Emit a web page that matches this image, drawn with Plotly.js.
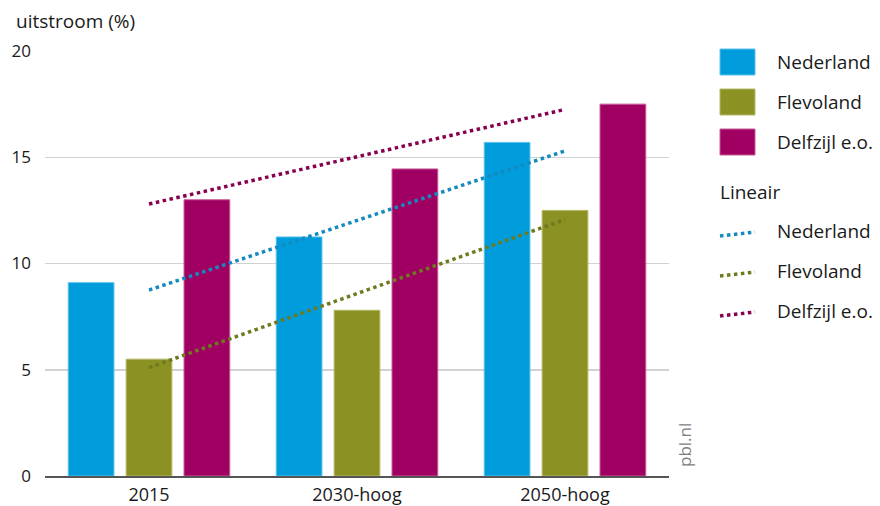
<!DOCTYPE html>
<html>
<head>
<meta charset="utf-8">
<script src="https://cdn.plot.ly/plotly-3.0.1.min.js"></script>
<style>html,body{margin:0;padding:0;background:#fff;}#chart{width:880px;height:506px;}</style>
</head>
<body>
<div id="chart"></div>
<script>
// ---- data ----
var categories = ['2015', '2030-hoog', '2050-hoog'];
var seriesNames = ['Nederland', 'Flevoland', 'Delfzijl e.o.'];
var nederland = [9.1, 11.25, 15.7];
var flevoland = [5.5, 7.8, 12.5];
var delfzijl = [13.0, 14.45, 17.5];
// linear trend lines: start (2015) and end (2050-hoog) values
var trendCategories = ['2015', '2050-hoog'];
var trendNederland = [8.75, 15.3];
var trendFlevoland = [5.1, 12.07];
var trendDelfzijl = [12.8, 17.25];
var yTicks = [0, 5, 10, 15, 20];
var yTickLabels = ['0', '5', '10', '15', '20'];

// ---- styles ----
var barColors = ['#009cdc', '#8b9122', '#a00062'];
var barEdge = ['#5cc3ec', '#b4b86a', '#c85a98'];
var trendColors = ['#1589c0', '#6e7a1e', '#87004f'];
var FONT = '"Open Sans", "Noto Sans", sans-serif';

var barValues = [nederland, flevoland, delfzijl];
var trendValues = [trendNederland, trendFlevoland, trendDelfzijl];

var traces = [];
for (var i = 0; i < 3; i++) {
  traces.push({
    type: 'bar', name: seriesNames[i], x: categories, y: barValues[i],
    marker: {color: barColors[i], line: {color: barEdge[i], width: 1}},
    showlegend: false, hoverinfo: 'x+y+name'
  });
}
for (var j = 0; j < 3; j++) {
  traces.push({
    type: 'scatter', mode: 'lines', name: 'Lineair ' + seriesNames[j],
    x: trendCategories, y: trendValues[j],
    line: {color: trendColors[j], width: 3.5, dash: 'dot'},
    showlegend: false
  });
}

// plot-area geometry helpers for the hand-built legend (paper coords)
var L = 45, R = 211, T = 51, B = 30, W = 880, H = 506;
var pw = W - L - R, ph = H - T - B;
function px(x) { return (x - L) / pw; }
function py(y) { return (H - B - y) / ph; }

var shapes = [], annotations = [];
var rowY = [62, 102, 142];
for (var k = 0; k < 3; k++) {
  shapes.push({type: 'rect', xref: 'paper', yref: 'paper',
    x0: px(720), x1: px(755), y0: py(rowY[k] + 13), y1: py(rowY[k] - 13),
    fillcolor: barColors[k], line: {color: barEdge[k], width: 1}});
  annotations.push({xref: 'paper', yref: 'paper', x: px(775), y: py(rowY[k]),
    xanchor: 'left', yanchor: 'middle', text: seriesNames[k], showarrow: false,
    font: {family: FONT, size: 19, color: '#1a1a1a'}});
}
annotations.push({xref: 'paper', yref: 'paper', x: px(718), y: py(192),
  xanchor: 'left', yanchor: 'middle', text: 'Lineair', showarrow: false,
  font: {family: FONT, size: 19, color: '#1a1a1a'}});
var lineRowY = [231, 271, 311];
for (var m = 0; m < 3; m++) {
  shapes.push({type: 'line', xref: 'paper', yref: 'paper',
    x0: px(720), x1: px(755), y0: py(lineRowY[m] + 5), y1: py(lineRowY[m] + 1),
    line: {color: trendColors[m], width: 3.5, dash: 'dot'}});
  annotations.push({xref: 'paper', yref: 'paper', x: px(775), y: py(lineRowY[m]),
    xanchor: 'left', yanchor: 'middle', text: seriesNames[m], showarrow: false,
    font: {family: FONT, size: 19, color: '#1a1a1a'}});
}
annotations.push({xref: 'paper', yref: 'paper', x: px(684), y: py(445),
  xanchor: 'center', yanchor: 'middle', text: 'pbl.nl', textangle: -90, showarrow: false,
  font: {family: FONT, size: 17, color: '#808080'}});

var layout = {
  width: W, height: H,
  margin: {l: L, r: R, t: T, b: B, pad: 0},
  paper_bgcolor: '#ffffff', plot_bgcolor: '#ffffff',
  font: {family: FONT, size: 16, color: '#1a1a1a'},
  title: {text: 'uitstroom (%)', xref: 'container', yref: 'container',
    x: 16 / W, xanchor: 'left', y: 1 - 21 / H, yanchor: 'middle',
    font: {family: FONT, size: 19, color: '#1a1a1a'}},
  barmode: 'group', bargap: 0.165, bargroupgap: 0.21,
  showlegend: false,
  xaxis: {type: 'category', categoryorder: 'array', categoryarray: categories,
    showgrid: false, showline: true, linecolor: '#555555', linewidth: 2,
    ticks: '', tickfont: {family: FONT, size: 18, color: '#1a1a1a'}, ticklabelstandoff: 1,
    zeroline: false, fixedrange: true},
  yaxis: {range: [0, 20], tickmode: 'array', tickvals: yTicks, ticktext: yTickLabels,
    showgrid: true, gridcolor: '#d2d2d2', gridwidth: 1.5, zeroline: false,
    showline: false, ticks: '', ticklabelstandoff: 13,
    tickfont: {family: FONT, size: 17, color: '#1a1a1a'}, fixedrange: true},
  shapes: shapes, annotations: annotations
};

Plotly.newPlot('chart', traces, layout, {displayModeBar: false, staticPlot: true});
</script>
</body>
</html>
